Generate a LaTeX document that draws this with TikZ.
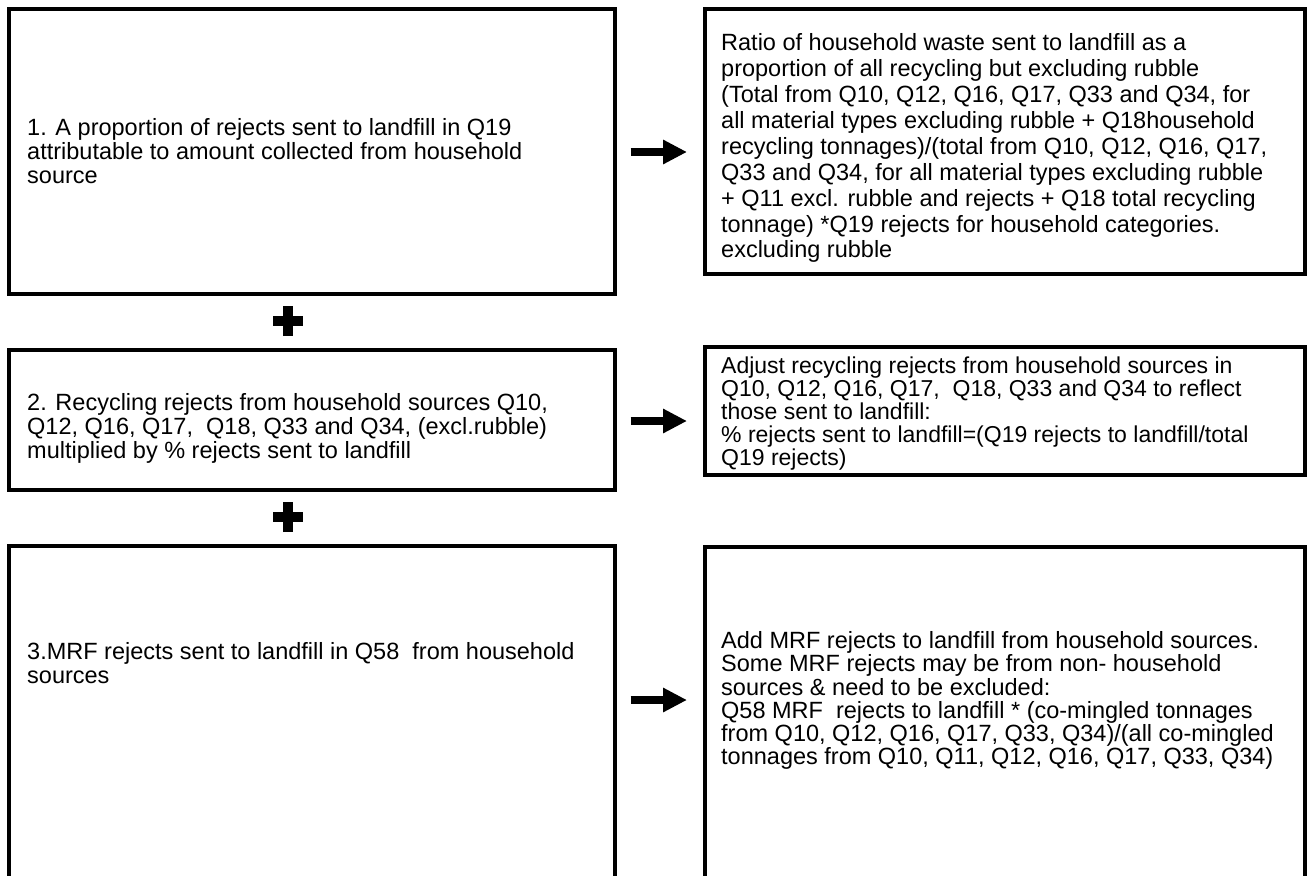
\documentclass[tikz,border=0pt]{standalone}
\usepackage{fontspec}
\setmainfont{Liberation Sans}
\usetikzlibrary{arrows.meta}
\begin{document}
\begin{tikzpicture}[x=1pt,y=-1pt,
  box/.style={draw, line width=3.6pt, inner sep=0pt, anchor=north west},
  lbox/.style={box, minimum width=606pt},
  rbox/.style={box, minimum width=600pt},
  txt/.style={anchor=north west, inner sep=0pt, align=left},
  bigarrow/.style={line width=8pt, -{Triangle[length=24pt,width=23pt]}},
  plusbar/.style={line width=10pt}]
\useasboundingbox (0,0) rectangle (1308,875);
% boxes
\node[lbox, minimum height=285pt] (L1) at (7,7) {};
\node[rbox, minimum height=265pt] (R1) at (703,7) {};
\node[lbox, minimum height=140pt] (L2) at (7,348) {};
\node[rbox, minimum height=128pt] (R2) at (703,345) {};
\node[lbox, minimum height=360pt] (L3) at (7,544) {};
\node[rbox, minimum height=360pt] (R3) at (703,545) {};
% texts
\node[txt, font=\fontsize{23.5}{24}\selectfont] (t1) at (27,118.5)
 {1. A proportion of rejects sent to landfill in Q19\\
  attributable to amount collected from household\\
  source};
\node[txt, font=\fontsize{23.5}{25.9}\selectfont] (u1) at (721,33.5)
 {Ratio of household waste sent to landfill as a\\
  proportion of all recycling but excluding rubble\\
  (Total from Q10, Q12, Q16, Q17, Q33 and Q34, for\\
  all material types excluding rubble + Q18household\\
  recycling tonnages)/(total from Q10, Q12, Q16, Q17,\\
  Q33 and Q34, for all material types excluding rubble\\
  + Q11 excl. rubble and rejects + Q18 total recycling\\
  tonnage) *Q19 rejects for household categories.\\
  excluding rubble};
\node[txt, font=\fontsize{23.5}{24}\selectfont] (t2) at (27,393.5)
 {2. Recycling rejects from household sources Q10,\\
  Q12, Q16, Q17,\ \ Q18, Q33 and Q34, (excl.rubble)\\
  multiplied by \% rejects sent to landfill};
\node[txt, font=\fontsize{23}{22.8}\selectfont] (u2) at (721,357)
 {Adjust recycling rejects from household sources in\\
  Q10, Q12, Q16, Q17,\ \ Q18, Q33 and Q34 to reflect\\
  those sent to landfill:\\
  \% rejects sent to landfill=(Q19 rejects to landfill/total\\
  Q19 rejects)};
\node[txt, font=\fontsize{23.5}{24}\selectfont] (t3) at (27,642.5)
 {3.MRF rejects sent to landfill in Q58\ \ from household\\
  sources};
\node[txt, font=\fontsize{23.5}{23.2}\selectfont] (u3) at (721,631.5)
 {Add MRF rejects to landfill from household sources.\\
  Some MRF rejects may be from non- household\\
  sources \& need to be excluded:\\
  Q58 MRF\ \ rejects to landfill * (co-mingled tonnages\\
  from Q10, Q12, Q16, Q17, Q33, Q34)/(all co-mingled\\
  tonnages from Q10, Q11, Q12, Q16, Q17, Q33, Q34)};
% arrows
\coordinate (y1) at (0,152);
\coordinate (y2) at (0,421);
\coordinate (y3) at (0,700);
\draw[bigarrow] ([xshift=14pt]y1 -| L1.east) -- ([xshift=-16pt]y1 -| R1.west);
\draw[bigarrow] ([xshift=14pt]y2 -| L2.east) -- ([xshift=-16pt]y2 -| R2.west);
\draw[bigarrow] ([xshift=14pt]y3 -| L3.east) -- ([xshift=-16pt]y3 -| R3.west);
% plus signs
\coordinate (p1) at (288,321);
\coordinate (p2) at (288,517);
\draw[plusbar] ([xshift=-15pt]p1) -- ([xshift=15pt]p1) ([yshift=-15pt]p1) -- ([yshift=15pt]p1);
\draw[plusbar] ([xshift=-15pt]p2) -- ([xshift=15pt]p2) ([yshift=-15pt]p2) -- ([yshift=15pt]p2);
\end{tikzpicture}
\end{document}
